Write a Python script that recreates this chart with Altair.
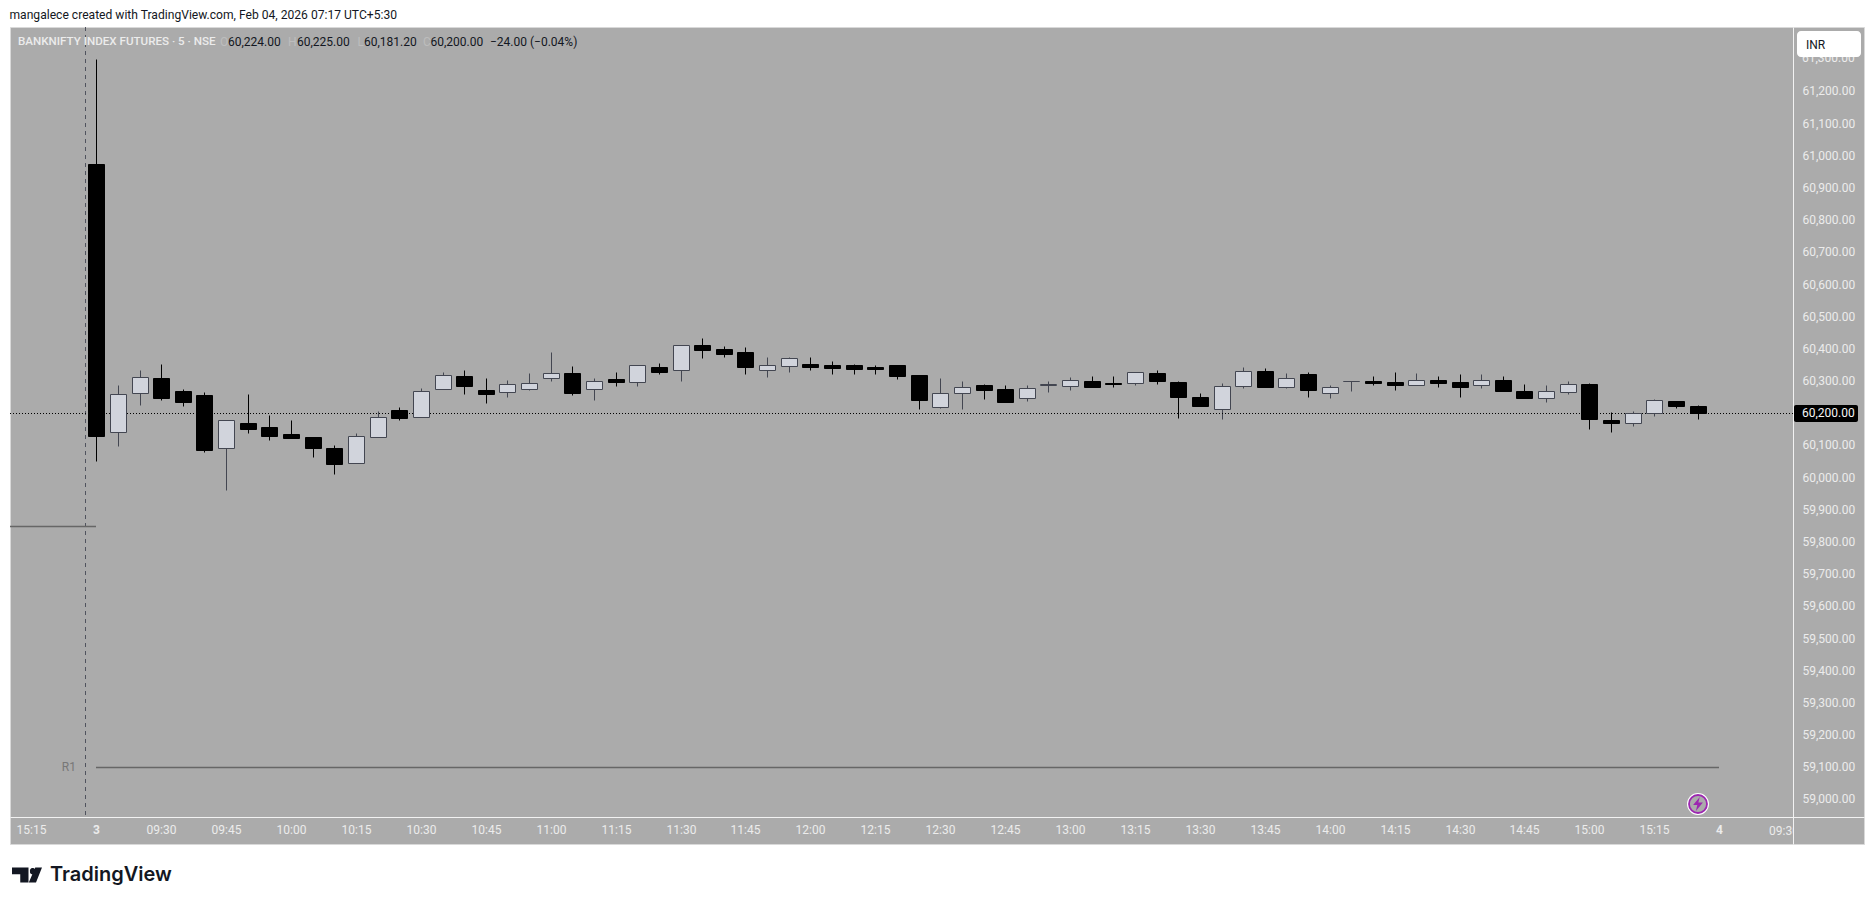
import altair as alt
import pandas as pd

# ---- candle data (5-minute bars, index 0 = 09:15) ----
opens = [60975,60143,60262,60310,60269,60257,60093,60170,60158,60136,60126,60092,60044,60127,60210,60190,60277,60316,60273,60267,60277,60311,60325,60274,60307,60298,60344,60333,60412,60400,60391,60333,60348,60353,60350,60350,60344,60350,60319,60221,60262,60288,60276,60249,60289,60286,60300,60294,60295,60325,60297,60251,60214,60286,60332,60283,60322,60264,60299,60300,60297,60289,60304,60297,60289,60304,60269,60249,60267,60291,60179,60169,60200,60237,60224]
highs = [61301,60288,60335,60353,60276,60266,60179,60260,60195,60179,60126,60102,60139,60207,60220,60279,60328,60335,60310,60304,60325,60391,60347,60310,60328,60349,60356,60411,60434,60409,60406,60375,60375,60375,60363,60353,60350,60350,60319,60310,60300,60291,60288,60288,60300,60313,60316,60316,60327,60335,60300,60263,60294,60344,60341,60325,60328,60288,60299,60316,60328,60325,60316,60322,60322,60316,60291,60288,60300,60294,60204,60206,60245,60238,60225]
lows = [60053,60098,60226,60241,60223,60080,59962,60139,60117,60123,60064,60011,60044,60127,60179,60190,60277,60260,60232,60251,60273,60300,60257,60241,60285,60285,60322,60300,60372,60375,60322,60313,60328,60335,60322,60322,60322,60307,60213,60217,60213,60245,60235,60238,60266,60273,60282,60282,60288,60291,60186,60223,60182,60278,60282,60279,60251,60248,60269,60288,60273,60289,60282,60251,60279,60269,60248,60235,60260,60151,60142,60161,60192,60217,60181]
closes = [60130,60259,60312,60249,60235,60086,60179,60151,60130,60123,60092,60043,60129,60188,60186,60268,60318,60285,60260,60290,60293,60324,60263,60299,60297,60349,60328,60411,60397,60384,60344,60349,60371,60344,60341,60338,60338,60316,60241,60262,60281,60273,60235,60278,60290,60303,60282,60292,60327,60300,60251,60223,60284,60331,60282,60309,60273,60281,60299,60294,60288,60303,60294,60282,60303,60269,60248,60268,60290,60182,60170,60200,60240,60224,60200]

price_ticks = [61200,61100,61000,60900,60800,60700,60600,60500,60400,60300,60100,60000,59900,59800,59700,59600,59500,59400,59300,59200,59100,59000]
time_positions = [-3,0,3,6,9,12,15,18,21,24,27,30,33,36,39,42,45,48,51,54,57,60,63,66,69,72,75]
time_labels = ["15:15","3","09:30","09:45","10:00","10:15","10:30","10:45","11:00","11:15","11:30","11:45","12:00","12:15","12:30","12:45","13:00","13:15","13:30","13:45","14:00","14:15","14:30","14:45","15:00","15:15","4"]
last_price = 60200
r1_level = 59102
old_level = 59850

BG = "#ababab"
AX = "#ececec"
FONT = "Roboto"
UP_FILL = "#d1d4dc"
UP_LINE = "#434651"
DOWN = "#000000"

df = pd.DataFrame({"i": range(len(opens)), "o": opens, "h": highs, "l": lows, "c": closes})
df["dir"] = ["down" if c < o else "up" for o, c in zip(opens, closes)]

xs = alt.Scale(domain=[-3.988, 81.69], nice=False, zero=False, round=True, padding=0)
ys = alt.Scale(domain=[58861.6, 61400.4], nice=False, zero=False, round=True, padding=0)

label_expr = "{" + ",".join(f"'{p}':'{t}'" for p, t in zip(time_positions, time_labels)) + "}[''+datum.value]"

x_axis = alt.Axis(values=time_positions, labelExpr=label_expr, orient="bottom", offset=-27, title=None, zindex=1,
                  ticks=False, grid=False, domainColor="#f2f2f2", domainWidth=1, labelColor=AX,
                  labelFont=FONT, labelFontSize=12, labelPadding=7, labelOverlap=False, labelFlush=False,
                  labelFontWeight={"condition": {"test": "datum.value==0||datum.value==75", "value": "bold"}, "value": "normal"})
y_axis = alt.Axis(values=price_ticks, format=",.2f", orient="right", offset=-71, title=None, zindex=1,
                  ticks=False, grid=False, domainColor="#f2f2f2", domainWidth=1, labelColor=AX,
                  labelFont=FONT, labelFontSize=12, labelPadding=9, labelOffset=-1, labelOverlap=False, labelFlush=False)

cscale_fill = alt.Scale(domain=["up", "down"], range=[UP_FILL, DOWN])
cscale_line = alt.Scale(domain=["up", "down"], range=[UP_LINE, DOWN])

wicks = alt.Chart(df).mark_rule(strokeWidth=1, xOffset=0.5, yOffset=0.5, y2Offset=0.5).encode(
    x=alt.X("i:Q", scale=xs, axis=x_axis),
    y=alt.Y("l:Q", scale=ys, axis=y_axis),
    y2="h:Q",
    stroke=alt.Stroke("dir:N", scale=cscale_line, legend=None),
)
bodies = alt.Chart(df).mark_bar(size=16, strokeWidth=1, xOffset=0.5, yOffset=0.5, y2Offset=0.5).encode(
    x=alt.X("i:Q", scale=xs, axis=x_axis),
    y=alt.Y("o:Q", scale=ys, axis=y_axis),
    y2="c:Q",
    fill=alt.Fill("dir:N", scale=cscale_fill, legend=None),
    stroke=alt.Stroke("dir:N", scale=cscale_line, legend=None),
)

def one(**kw):
    return alt.Chart(pd.DataFrame([kw]))

session = one(i=-0.5).mark_rule(stroke="#50535e", strokeWidth=1, strokeDash=[4, 4], xOffset=0.5).encode(
    x=alt.X("i:Q", scale=xs, axis=x_axis), y=alt.value(0), y2=alt.value(790))
last_line = one(p=last_price).mark_rule(stroke="#000000", strokeWidth=1, strokeDash=[1, 2], yOffset=0.5).encode(
    y=alt.Y("p:Q", scale=ys, axis=y_axis), x=alt.value(0), x2=alt.value(1783))
r1_line = one(p=r1_level, a=0, b=75).mark_rule(stroke="#666666", strokeWidth=1.3, yOffset=0.5).encode(
    y=alt.Y("p:Q", scale=ys, axis=y_axis), x=alt.X("a:Q", scale=xs, axis=x_axis), x2="b:Q")
old_line = one(p=old_level, a=-3.988, b=0).mark_rule(stroke="#666666", strokeWidth=1.3, yOffset=0.5).encode(
    y=alt.Y("p:Q", scale=ys, axis=y_axis), x=alt.X("a:Q", scale=xs, axis=x_axis), x2="b:Q")
r1_text = one(p=r1_level, t="R1").mark_text(font=FONT, fontSize=12, color="#777777", align="right", baseline="middle").encode(
    y=alt.Y("p:Q", scale=ys, axis=y_axis), x=alt.value(66), text="t:N")

def txt(t, x, y, color="#131722", size=12, align="left", weight="normal", font=FONT):
    return one(t=t).mark_text(font=font, fontSize=size, color=color, align=align, baseline="middle", fontWeight=weight).encode(
        x=alt.value(x), y=alt.value(y), text="t:N")

# last time label, cut by the strip of the price scale
cut_label = one(i=78, t="09:30").mark_text(font=FONT, fontSize=12, color=AX, align="center", baseline="middle").encode(
    x=alt.X("i:Q", scale=xs, axis=x_axis), y=alt.value(804), text="t:N")
strip = one(a=1).mark_rect(fill=BG).encode(x=alt.value(1783), x2=alt.value(1854), y=alt.value(791), y2=alt.value(816))

hidden_tick = one(p=61300, t="61,300.00").mark_text(font=FONT, fontSize=12, color=AX, align="left", baseline="middle", dy=-1).encode(
    y=alt.Y("p:Q", scale=ys, axis=y_axis), x=alt.value(1792), text="t:N")
inr_box = one(a=1).mark_rect(fill="#ffffff", cornerRadius=4).encode(x=alt.value(1787), x2=alt.value(1851), y=alt.value(4), y2=alt.value(30))
inr = txt("INR", 1796, 18, color="#131722")

tag = one(a=1).mark_rect(fill="#000000", cornerRadius=2).encode(x=alt.value(1784), x2=alt.value(1848), y=alt.value(378), y2=alt.value(395))
tag_text = one(p=last_price, t="60,200.00").mark_text(font=FONT, fontSize=12, color="#f5f5f5", align="left", baseline="middle").encode(
    y=alt.Y("p:Q", scale=ys, axis=y_axis), x=alt.value(1792), text="t:N")

HDR = 14.5
hdr = [
    txt("BANKNIFTY INDEX FUTURES · 5 · NSE", 8, HDR, color=AX, size=11.6, weight=500),
    txt("O", 210, HDR, color="#bdbdbd"),
    txt("60,224.00", 218, HDR),
    txt("H", 278, HDR, color="#bdbdbd"),
    txt("60,225.00", 287, HDR),
    txt("L", 347.6, HDR, color="#bdbdbd"),
    txt("60,181.20", 354, HDR),
    txt("C", 413, HDR, color="#bdbdbd"),
    txt("60,200.00", 420.5, HDR),
    txt("−24.00 (−0.04%)", 480, HDR),
]
credit = txt("mangalece created with TradingView.com, Feb 04, 2026 07:17 UTC+5:30", -0.5, -12.5, size=12.1)

ring_o = one(a=1).mark_point(shape="circle", filled=True, fill="#ffffff", size=484, opacity=1, strokeWidth=0).encode(x=alt.value(1688), y=alt.value(777))
ring_i = one(a=1).mark_point(shape="circle", filled=True, fill=BG, size=324, opacity=1, stroke="#9c27b0", strokeWidth=1.8).encode(x=alt.value(1688), y=alt.value(777))
bolt_path = "M0.25,-1 L-0.7,0.15 L-0.1,0.15 L-0.3,1 L0.7,-0.2 L0.05,-0.2 Z"
bolt = one(a=1).mark_point(shape=bolt_path, filled=True, fill="#9c27b0", size=196, opacity=1, strokeWidth=0).encode(x=alt.value(1688), y=alt.value(777))

logo_path = "M-1,-0.5 L0.1,-0.5 L0.1,0.5 L-0.45,0.5 L-0.45,-0.05 L-1,-0.05 Z M0.2,-0.25 A0.18,0.18 0 1 1 0.55,-0.25 A0.18,0.18 0 1 1 0.2,-0.25 Z M0.55,-0.5 L1,-0.5 L0.6,0.5 L0.12,0.5 Z"
logo = one(a=1).mark_point(shape=logo_path, filled=True, fill="#131722", size=900, opacity=1, strokeWidth=0).encode(x=alt.value(17), y=alt.value(848))
logo_text = txt("TradingView", 40, 848, size=20, weight=600, font="Inter")

chart = alt.layer(
    wicks, session, last_line, old_line, r1_line, r1_text, bodies, cut_label, strip,
    hidden_tick, inr_box, inr, tag, tag_text, *hdr, credit,
    ring_o, ring_i, bolt, logo, logo_text,
).properties(
    width=1854, height=817,
    autosize=alt.AutoSizeParams(type="none"),
    padding={"left": 2, "top": 19, "right": 3, "bottom": 44},
    background="#ffffff",
).configure_view(fill=BG, stroke="#d9d9d9", strokeWidth=1)

chart.save("out.html", embed_options={"renderer": "svg", "actions": False})
